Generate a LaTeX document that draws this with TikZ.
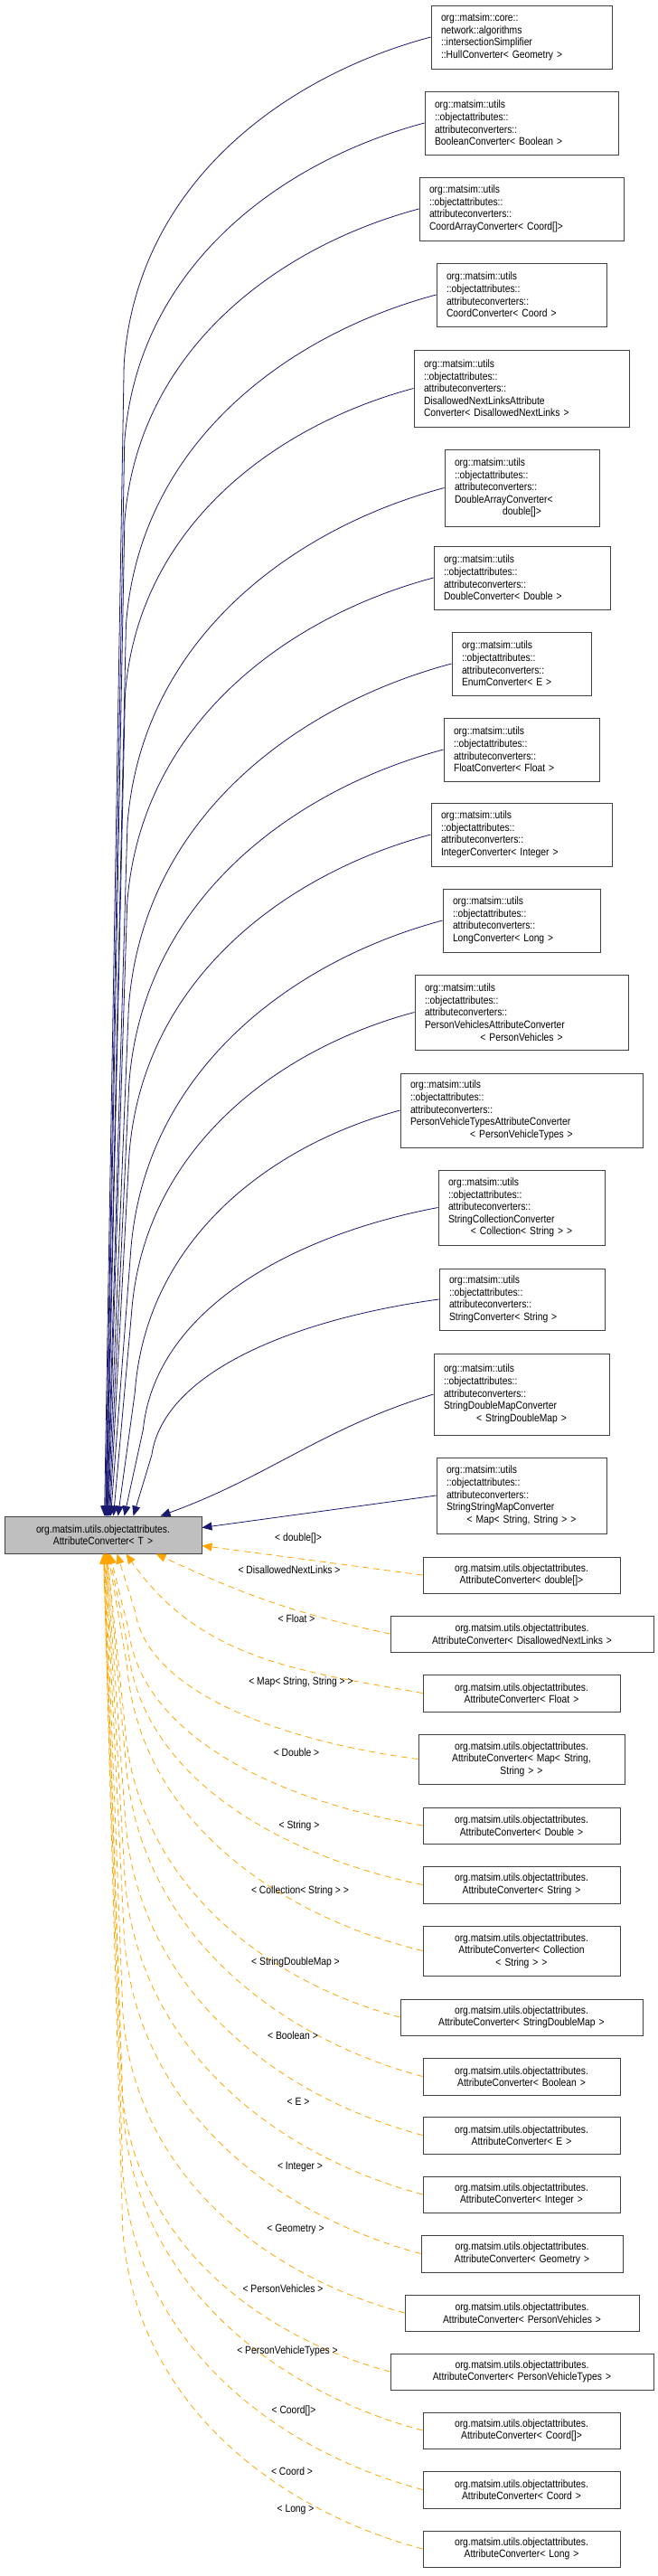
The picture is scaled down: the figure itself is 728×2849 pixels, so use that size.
\documentclass[tikz,border=0pt]{standalone}
\usepackage{fontspec}
\setmainfont{Liberation Sans}[FakeStretch=0.86]
\usetikzlibrary{calc,arrows.meta}
\definecolor{edgeblue}{HTML}{191970}
\definecolor{edgeorange}{HTML}{FFA500}
\definecolor{boxline}{HTML}{404040}
\begin{document}
\begin{tikzpicture}[x=1pt,y=-1pt,
  box/.style={draw=boxline,line width=0.9pt,fill=white,inner xsep=0pt,inner ysep=0pt,align=left,font=\fontsize{12}{13.6}\selectfont},
  cbox/.style={box,align=center},
  pbox/.style={box,align=center,fill=black!25},
  sol/.style={draw=edgeblue,line width=0.8pt,-{Triangle[length=11pt,width=9pt]}},
  dsh/.style={draw=edgeorange,line width=0.8pt,dash pattern=on 7pt off 5pt,-{Triangle[length=11pt,width=9pt]}},
  lbl/.style={font=\fontsize{12}{13.6}\selectfont,inner sep=0pt}]
\useasboundingbox (0,0) rectangle (728,2849);
\fill[white] (0,0) rectangle (728,2849);
\newcommand\cb[7]{%
 \pgfmathsetmacro\cw{#5-#3}\pgfmathsetmacro\ch{#6-#4}\pgfmathsetmacro\tw{#5-#3-22}%
 \node[#1,minimum width=\cw pt,minimum height=\ch pt,text width=\tw pt] (#2) at ({(#3+#5)/2},{(#4+#6)/2}) {#7};}
\newcommand\lastc[1]{\par{\centering #1\par}}
% parent
\cb{pbox}{P}{5}{1677}{223}{1718}{org.matsim.utils.objectattributes.\\AttributeConverter< T >}
% solid children
\cb{box}{s1}{477}{6}{677}{76}{org::matsim::core::\\network::algorithms\\::intersectionSimplifier\\::HullConverter< Geometry >}
\cb{box}{s2}{470}{101}{684}{171}{org::matsim::utils\\::objectattributes::\\attributeconverters::\\BooleanConverter< Boolean >}
\cb{box}{s3}{464}{196}{690}{266}{org::matsim::utils\\::objectattributes::\\attributeconverters::\\CoordArrayConverter< Coord[]>}
\cb{box}{s4}{483}{291}{671}{361}{org::matsim::utils\\::objectattributes::\\attributeconverters::\\CoordConverter< Coord >}
\cb{box}{s5}{458}{387}{696}{472}{org::matsim::utils\\::objectattributes::\\attributeconverters::\\DisallowedNextLinksAttribute\\Converter< DisallowedNextLinks >}
\cb{box}{s6}{492}{497}{663}{582}{org::matsim::utils\\::objectattributes::\\attributeconverters::\\DoubleArrayConverter<\lastc{double[]>}}
\cb{box}{s7}{480}{604}{675}{674}{org::matsim::utils\\::objectattributes::\\attributeconverters::\\DoubleConverter< Double >}
\cb{box}{s8}{500}{699}{654}{769}{org::matsim::utils\\::objectattributes::\\attributeconverters::\\EnumConverter< E >}
\cb{box}{s9}{491}{794}{663}{864}{org::matsim::utils\\::objectattributes::\\attributeconverters::\\FloatConverter< Float >}
\cb{box}{s10}{477}{888}{677}{958}{org::matsim::utils\\::objectattributes::\\attributeconverters::\\IntegerConverter< Integer >}
\cb{box}{s11}{490}{983}{664}{1053}{org::matsim::utils\\::objectattributes::\\attributeconverters::\\LongConverter< Long >}
\cb{box}{s12}{459}{1078}{695}{1161}{org::matsim::utils\\::objectattributes::\\attributeconverters::\\PersonVehiclesAttributeConverter\lastc{< PersonVehicles >}}
\cb{box}{s13}{443}{1187}{711}{1269}{org::matsim::utils\\::objectattributes::\\attributeconverters::\\PersonVehicleTypesAttributeConverter\lastc{< PersonVehicleTypes >}}
\cb{box}{s14}{485}{1294}{669}{1377}{org::matsim::utils\\::objectattributes::\\attributeconverters::\\StringCollectionConverter\lastc{< Collection< String > >}}
\cb{box}{s15}{486}{1403}{669}{1471}{org::matsim::utils\\::objectattributes::\\attributeconverters::\\StringConverter< String >}
\cb{box}{s16}{480}{1497}{674}{1587}{org::matsim::utils\\::objectattributes::\\attributeconverters::\\StringDoubleMapConverter\lastc{< StringDoubleMap >}}
\cb{box}{s17}{483}{1612}{671}{1696}{org::matsim::utils\\::objectattributes::\\attributeconverters::\\StringStringMapConverter\lastc{< Map< String, String > >}}
% dashed children
\cb{cbox}{d1}{468}{1722}{686}{1762}{org.matsim.utils.objectattributes.\\AttributeConverter< double[]>}
\cb{cbox}{d2}{432}{1787}{723}{1827}{org.matsim.utils.objectattributes.\\AttributeConverter< DisallowedNextLinks >}
\cb{cbox}{d3}{468}{1852}{686}{1893}{org.matsim.utils.objectattributes.\\AttributeConverter< Float >}
\cb{cbox}{d4}{463}{1918}{691}{1973}{org.matsim.utils.objectattributes.\\AttributeConverter< Map< String,\\String > >}
\cb{cbox}{d5}{468}{1999}{686}{2039}{org.matsim.utils.objectattributes.\\AttributeConverter< Double >}
\cb{cbox}{d6}{468}{2064}{686}{2105}{org.matsim.utils.objectattributes.\\AttributeConverter< String >}
\cb{cbox}{d7}{468}{2130}{686}{2185}{org.matsim.utils.objectattributes.\\AttributeConverter< Collection\\< String > >}
\cb{cbox}{d8}{443}{2211}{711}{2251}{org.matsim.utils.objectattributes.\\AttributeConverter< StringDoubleMap >}
\cb{cbox}{d9}{468}{2276}{686}{2317}{org.matsim.utils.objectattributes.\\AttributeConverter< Boolean >}
\cb{cbox}{d10}{468}{2341}{686}{2382}{org.matsim.utils.objectattributes.\\AttributeConverter< E >}
\cb{cbox}{d11}{468}{2407}{686}{2447}{org.matsim.utils.objectattributes.\\AttributeConverter< Integer >}
\cb{cbox}{d12}{466}{2472}{689}{2513}{org.matsim.utils.objectattributes.\\AttributeConverter< Geometry >}
\cb{cbox}{d13}{448}{2538}{707}{2578}{org.matsim.utils.objectattributes.\\AttributeConverter< PersonVehicles >}
\cb{cbox}{d14}{432}{2603}{723}{2643}{org.matsim.utils.objectattributes.\\AttributeConverter< PersonVehicleTypes >}
\cb{cbox}{d15}{468}{2668}{686}{2708}{org.matsim.utils.objectattributes.\\AttributeConverter< Coord[]>}
\cb{cbox}{d16}{468}{2733}{686}{2774}{org.matsim.utils.objectattributes.\\AttributeConverter< Coord >}
\cb{cbox}{d17}{468}{2799}{686}{2839}{org.matsim.utils.objectattributes.\\AttributeConverter< Long >}
% tips
\foreach \k/\x in {1/111,2/112,3/112.5,4/113,5/113.5,6/114,7/114.5,8/115,9/116,10/117,11/118,12/121,13/126,14/133,15/143,16/173}{
  \coordinate (ts\k) at ($(P.north west)+(\x,0)$);}
\coordinate (ts17) at ($(P.east)+(0,-8)$);
\foreach \k/\x in {4/125,5/117,6/116,7/115,8/114,9/113.5,10/113,11/112.5,12/112,13/111.5,14/111,15/110.5,16/110,17/110}{
  \coordinate (td\k) at ($(P.south west)+(\x,0)$);}
\coordinate (td1) at ($(P.east)+(0,12)$);
\coordinate (td2) at ($(P.south west)+(168,0)$);
\coordinate (td3) at ($(P.south west)+(135,0)$);
% edges
\newcommand\sedge[2]{\draw[sol] let \p1=(#1.west),\p2=(#2),\n1={\x1-\x2},\n2={min(\x1-\x2,0.72*(\y1-\y2))} in
  (\p1) .. controls ({\x1-0.45*\n1},{\y1-0.12*\n2}) and ({\x2+0.1*\n1},{\y1-0.45*\n2}) .. ({\x2+0.06*\n1},{\y1-\n2}) -- (\p2);}
\newcommand\dedge[2]{\draw[dsh] let \p1=(#1.west),\p2=(#2),\n1={\x1-\x2},\n2={min(\x1-\x2,0.72*(\y2-\y1))} in
  (\p1) .. controls ({\x1-0.45*\n1},{\y1+0.12*\n2}) and ({\x2+0.1*\n1},{\y1+0.45*\n2}) .. ({\x2+0.06*\n1},{\y1+\n2}) -- (\p2);}
\foreach \k in {1,...,15}{\sedge{s\k}{ts\k}}
\draw[sol] (s16.west) to[out=197,in=20] (ts16);
\draw[sol] (s17.west) -- (ts17);
\draw[dsh] (d1.west) -- (td1);
\draw[dsh] (d2.west) to[out=168,in=-25] (td2);
\draw[dsh] (d3.west) to[out=170,in=-55] (td3);
\foreach \k in {4,...,17}{\dedge{d\k}{td\k}}
% labels
\node[lbl] (l1) at (330,1701) {< double[]>};
\node[lbl] (l2) at (320,1736) {< DisallowedNextLinks >};
\node[lbl] (l3) at (328,1790) {< Float >};
\node[lbl] (l4) at (333,1860) {< Map< String, String > >};
\node[lbl] (l5) at (328,1938) {< Double >};
\node[lbl] (l6) at (331,2019) {< String >};
\node[lbl] (l7) at (332,2091) {< Collection< String > >};
\node[lbl] (l8) at (327,2170) {< StringDoubleMap >};
\node[lbl] (l9) at (324,2251) {< Boolean >};
\node[lbl] (l10) at (330,2324) {< E >};
\node[lbl] (l11) at (332,2397) {< Integer >};
\node[lbl] (l12) at (327,2466) {< Geometry >};
\node[lbl] (l13) at (313,2531) {< PersonVehicles >};
\node[lbl] (l14) at (318,2600) {< PersonVehicleTypes >};
\node[lbl] (l15) at (325,2666) {< Coord[]>};
\node[lbl] (l16) at (323,2733) {< Coord >};
\node[lbl] (l17) at (327,2776) {< Long >};
\end{tikzpicture}
\end{document}
